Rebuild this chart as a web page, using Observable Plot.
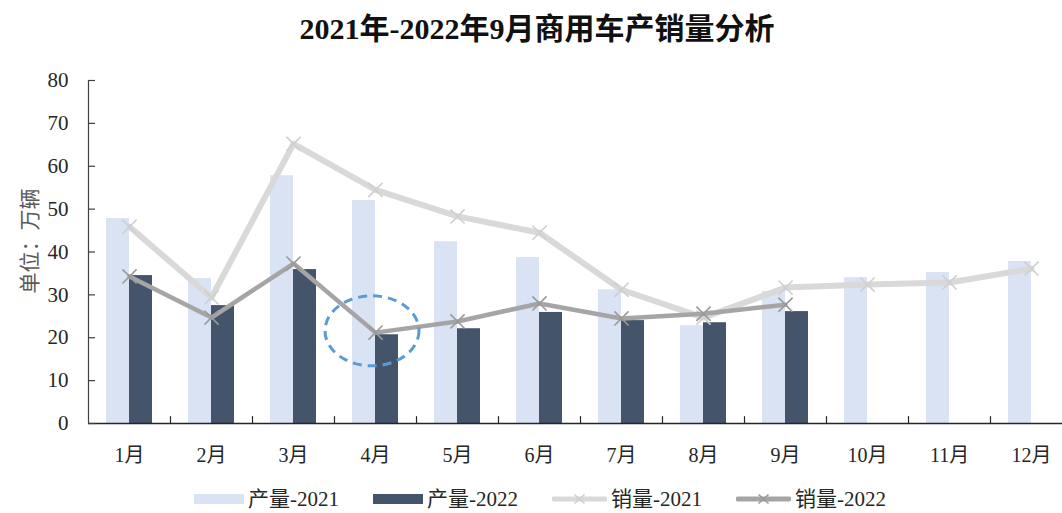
<!DOCTYPE html>
<html>
<head>
<meta charset="utf-8">
<script src="https://cdn.jsdelivr.net/npm/d3@7"></script>
<script src="https://cdn.jsdelivr.net/npm/@observablehq/plot@0.6"></script>
<style>
  html, body { margin: 0; padding: 0; background: #fff; overflow: hidden; }
  #wrap { width: 1062px; height: 513px; overflow: hidden; font-family: "Liberation Serif", "Noto Sans CJK SC", serif; color: #262626; }
  #title { height: 60px; line-height: 58px; text-align: center; font-size: 30px; font-weight: bold; padding-left: 12px; color: #111; white-space: nowrap; }
  #chart { width: 1062px; height: 410px; overflow: hidden; }
  #chart svg { max-width: none !important; }
  #legend { height: 43px; display: flex; justify-content: center; align-items: flex-start; gap: 34px; font-size: 21px; line-height: 26px; padding-left: 18px; padding-top: 16px; box-sizing: border-box; white-space: nowrap; }
  .item { display: flex; align-items: center; gap: 4px; height: 26px; }
</style>
</head>
<body>
<div id="wrap">
  <div id="title">2021年-2022年9月商用车产销量分析</div>
  <div id="chart"></div>
  <div id="legend"></div>
</div>
<script>
const months = ["1月","2月","3月","4月","5月","6月","7月","8月","9月","10月","11月","12月"];
const prod2021 = [47.8, 33.8, 57.8, 52.0, 42.4, 38.7, 31.2, 22.8, 30.8, 34.0, 35.2, 37.8];
const prod2022 = [34.5, 27.5, 35.9, 20.7, 22.1, 25.9, 24.0, 23.5, 26.1];
const sales2021 = [45.9, 29.4, 65.2, 54.5, 48.3, 44.5, 31.2, 24.7, 31.7, 32.4, 32.9, 36.1];
const sales2022 = [34.3, 24.7, 37.3, 21.2, 23.8, 28.0, 24.5, 25.6, 27.7];
const yTicks = [0, 10, 20, 30, 40, 50, 60, 70, 80];
const seriesNames = ["产量-2021", "产量-2022", "销量-2021", "销量-2022"];
const yLabel = "单位：万辆";
const highlight = {month: "4月", value: 21.5};

const colors = {p21: "#DAE3F3", p22: "#44546A", s21: "#D9D9D9", s22: "#A5A5A5"};
const toRows = (vals) => vals.map((v, i) => ({month: months[i], value: v}));
const p21 = toRows(prod2021), p22 = toRows(prod2022), s21 = toRows(sales2021), s22 = toRows(sales2022);

const ellipseMark = (index, scales, values, dims) => {
  const xs = scales.x;
  const bw = typeof xs.bandwidth === "function" ? xs.bandwidth() : (xs.bandwidth || 0);
  const cx = xs(highlight.month) + bw / 2 - 3;
  const cy = scales.y(highlight.value);
  const e = d3.create("svg:ellipse")
    .attr("cx", cx).attr("cy", cy).attr("rx", 47).attr("ry", 35)
    .attr("fill", "none").attr("stroke", "#5B9BD5").attr("stroke-width", 3)
    .attr("stroke-dasharray", "9,6");
  return e.node();
};

const chart = Plot.plot({
  width: 1072,
  height: 410,
  marginTop: 20,
  marginBottom: 47,
  marginLeft: 88,
  marginRight: 0,
  style: {fontFamily: '"Liberation Serif", "Noto Sans CJK SC", serif', fontSize: "20px", color: "#262626", background: "#fff", maxWidth: "none"},
  x: {type: "band", domain: months, padding: 0, label: null},
  y: {domain: [0, 80], label: null},
  marks: [
    Plot.barY(p21, {x: "month", y: "value", fill: colors.p21, insetLeft: 18, insetRight: 41}),
    Plot.barY(p22, {x: "month", y: "value", fill: colors.p22, insetLeft: 41, insetRight: 18}),
    Plot.line(s21, {x: "month", y: "value", stroke: colors.s21, strokeWidth: 6, strokeLinejoin: "round", strokeLinecap: "round"}),
    Plot.dot(s21, {x: "month", y: "value", symbol: "times", r: 6.5, stroke: "#CFCFCF", strokeWidth: 1.6}),
    Plot.line(s22, {x: "month", y: "value", stroke: colors.s22, strokeWidth: 4.5, strokeLinejoin: "round", strokeLinecap: "round"}),
    Plot.dot(s22, {x: "month", y: "value", symbol: "times", r: 6.5, stroke: "#9A9A9A", strokeWidth: 1.6}),
    Plot.ruleY([0], {stroke: "#262626", strokeWidth: 1.5}),
    Plot.ruleX([months[0]], {x: d => d, y1: 0, y2: 80, dx: -41, stroke: "#404040", strokeWidth: 1.2}),
    Plot.ruleX(months.slice(1), {x: d => d, y1: 0, y2: 1.6, dx: -41, stroke: "#262626", strokeWidth: 1.2}),
    Plot.axisY({ticks: yTicks, tickSize: 0, tickPadding: 20, fontSize: "21px", label: null}),
    Plot.tickY(yTicks, {y: d => d, insetRight: 1072 - 88 - 7, stroke: "#404040", strokeWidth: 1.2}),
    Plot.axisX({tickSize: 0, tickPadding: 24, fontSize: "20px", label: null}),
    Plot.text([yLabel], {frameAnchor: "left", textAnchor: "middle", rotate: -90, dx: -58, dy: -11, fontSize: 21, fill: "#595959"}),
    ellipseMark
  ]
});
document.getElementById("chart").appendChild(chart);

// legend
const legend = document.getElementById("legend");
const legendSwatches = [
  {type: "bar", color: colors.p21},
  {type: "bar", color: colors.p22},
  {type: "line", color: colors.s21, mark: "#CFCFCF"},
  {type: "line", color: colors.s22, mark: "#9A9A9A"}
];
seriesNames.forEach((name, i) => {
  const sw = legendSwatches[i];
  const item = document.createElement("div");
  item.className = "item";
  const svg = d3.create("svg").attr("width", sw.type === "bar" ? 50 : 55).attr("height", 16);
  if (sw.type === "bar") {
    svg.append("rect").attr("x", 0).attr("y", 3).attr("width", 50).attr("height", 10).attr("fill", sw.color);
  } else {
    svg.append("line").attr("x1", 2).attr("x2", 53).attr("y1", 8).attr("y2", 8).attr("stroke", sw.color).attr("stroke-width", 5).attr("stroke-linecap", "round");
    svg.append("path").attr("d", "M22.5,3.5L32.5,12.5M32.5,3.5L22.5,12.5").attr("stroke", sw.mark).attr("stroke-width", 1.6);
  }
  item.appendChild(svg.node());
  const t = document.createElement("span");
  t.textContent = name;
  item.appendChild(t);
  legend.appendChild(item);
});
</script>
</body>
</html>
